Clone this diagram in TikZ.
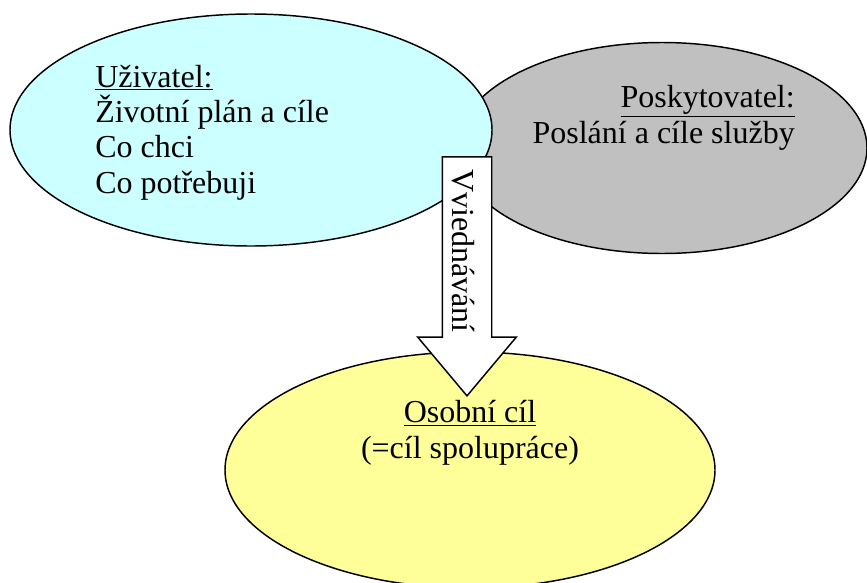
\documentclass[tikz,border=0pt]{standalone}
\usepackage{fontspec}
\setmainfont{Liberation Serif}
\usetikzlibrary{shapes.geometric,shapes.arrows,positioning}

\definecolor{uzfill}{HTML}{CCFFFF}
\definecolor{pofill}{HTML}{C0C0C0}
\definecolor{ocfill}{HTML}{FFFF99}

\tikzset{
  bubble/.style={ellipse, draw, line width=1.1pt},
  lbl/.style={font=\fontsize{24}{26.5}\selectfont, inner sep=0pt},
  bigarrow/.style={single arrow, draw, fill=white, line width=1.1pt,
    single arrow head extend=18.4pt, single arrow tip angle=80,
    single arrow head indent=0pt, minimum height=179.25pt, inner sep=18pt},
}

\begin{document}
\begin{tikzpicture}[x=0.75pt,y=-0.75pt]
    \useasboundingbox (0,0) rectangle (867,582);
    % the three ellipses
    \node[bubble, fill=pofill, minimum width=307.5pt, minimum height=158.25pt] (po) at (662,148) {};
    \node[bubble, fill=uzfill, minimum width=361.5pt, minimum height=174pt] (uz) at (251,130) {};
    \node[bubble, fill=ocfill, minimum width=367.5pt, minimum height=177pt] (oc) at (470,470) {};
    % texts (base = last line)
    \node[lbl, align=left, anchor=base west] (uzt) at (95,193) {\underline{Uživatel:}\\Životní plán a cíle\\Co chci\\Co potřebuji};
    \node[lbl, align=right, anchor=base east] (pot) at (795,143) {\underline{Poskytovatel:}\\Poslání a cíle služby};
    \node[lbl, align=center, anchor=base] (oct) at (470,458) {\underline{Osobní cíl}\\(=cíl spolupráce)};
    % arrow
    \node[bigarrow, rotate=-90, anchor=tip] (vj) at (467,397) {};
    \node[lbl, rotate=-90] (vjt) at (463,251) {Vviednávání};
\end{tikzpicture}
\end{document}
